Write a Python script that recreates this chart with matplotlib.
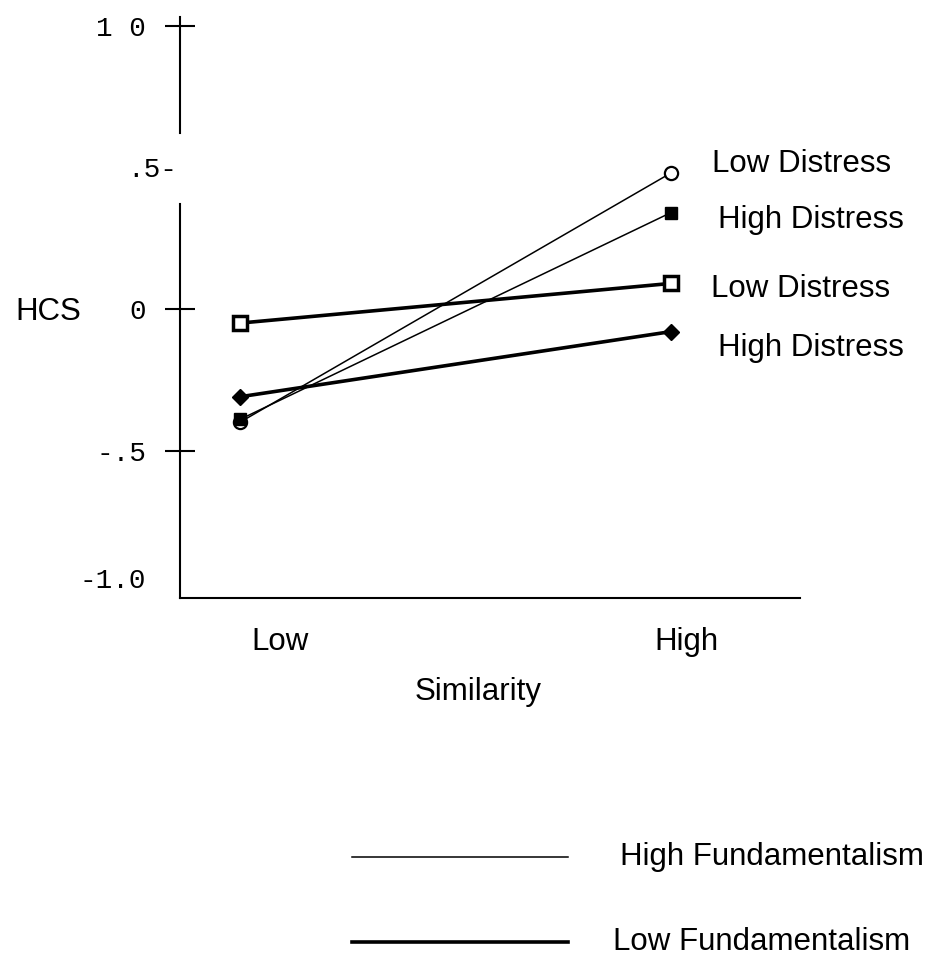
import matplotlib
matplotlib.use("Agg")
import matplotlib.pyplot as plt
import matplotlib.transforms as mtrans
from matplotlib.lines import Line2D

# values (HCS at low / high similarity)
similarity = ["Low", "High"]
x_pos = [0, 1]
hf_low_distress = [-0.40, 0.48]
hf_high_distress = [-0.39, 0.34]
lf_low_distress = [-0.05, 0.09]
lf_high_distress = [-0.31, -0.08]

y_ticks = [-1.0, -0.5, 0.0, 0.5, 1.0]
y_tick_labels = ["-1.0", "-.5", "0", ".5-", "1 0"]
end_labels = ["Low Distress", "High Distress", "Low Distress", "High Distress"]
legend_labels = ["High Fundamentalism", "Low Fundamentalism"]

SANS = "Liberation Sans"
MONO = "Liberation Mono"
FS = 22.5

fig = plt.figure(figsize=(9.46, 9.6), dpi=100)
ax = fig.add_axes([180 / 946, 1 - 598 / 960, 620 / 946, 581 / 960])
xmin, xmax = -0.139, 1.299
ax.set_xlim(xmin, xmax)
ax.set_ylim(-1.02, 1.03)


def px(dx, dy):
    # shift in screen pixels
    return mtrans.ScaledTranslation(dx / 100, dy / 100, fig.dpi_scale_trans)


thin = dict(color="black", lw=1.1)
thick = dict(color="black", lw=2.6)

# low fundamentalism (thick) first, high fundamentalism (thin) on top
ax.plot(x_pos, lf_low_distress, marker="s", ms=9.5, mfc="white", mec="black", mew=2.5, **thick)
ax.plot(x_pos, lf_high_distress, marker="D", ms=8.5, mfc="black", mec="black", **thick)
ax.plot(x_pos, hf_low_distress, marker="o", ms=9.5, mfc="white", mec="black", mew=1.6, **thin)
ax.plot(x_pos, hf_high_distress, marker="s", ms=8.5, mfc="black", mec="black", **thin)

# labels at the right end of each line
ends = [hf_low_distress[1], hf_high_distress[1], lf_low_distress[1], lf_high_distress[1]]
offsets = [(41, 1), (47, -15), (40, -14), (47, -24)]
for lbl, yv, (dx, dy) in zip(end_labels, ends, offsets):
    ax.annotate(lbl, xy=(1, yv), xytext=(dx, dy), textcoords="offset pixels",
                ha="left", va="baseline", fontsize=FS, family=SANS)

# axes frame
for s in ["top", "right"]:
    ax.spines[s].set_visible(False)
ax.spines["left"].set_linewidth(1.5)
ax.spines["bottom"].set_linewidth(1.5)
ax.spines["left"].set_bounds(-1.02, 0.37)
ax.axvline(xmin, ymin=(0.62 + 1.02) / 2.05, ymax=1.0, color="black", lw=1.5, clip_on=False)

ax.set_yticks(y_ticks, y_tick_labels, family=MONO, fontsize=20)
ax.tick_params(axis="y", direction="inout", length=22, width=1.5, pad=13.5)
yt = ax.yaxis.get_major_ticks()
yt[0].tick1line.set_visible(False)
yt[3].tick1line.set_visible(False)
ylabs = ax.get_yticklabels()
ylabs[0].set_transform(ylabs[0].get_transform() + px(0, 14))
ylabs[3].set_transform(ylabs[3].get_transform() + px(31, 0))

ax.set_xticks(x_pos, similarity, family=SANS, fontsize=FS)
ax.tick_params(axis="x", length=0, pad=21)
xlabs = ax.get_xticklabels()
xlabs[0].set_transform(xlabs[0].get_transform() + px(40, 0))
xlabs[1].set_transform(xlabs[1].get_transform() + px(15, 0))

fig.text(478 / 946, 1 - 692 / 960, "Similarity", ha="center", va="center",
         fontsize=FS, family=SANS)
fig.text(48 / 946, 1 - 312 / 960, "HCS", ha="center", va="center",
         fontsize=FS, family=SANS)

# legend drawn by hand below the plot
leg_y = [857, 942]
leg_lw = [1.1, 2.6]
leg_tx = [620, 613]
for lbl, y, lw, tx in zip(legend_labels, leg_y, leg_lw, leg_tx):
    fig.add_artist(Line2D([352 / 946, 568 / 946], [1 - y / 960] * 2,
                          transform=fig.transFigure, color="black", lw=lw))
    fig.text(tx / 946, 1 - y / 960, lbl, ha="left", va="center",
             fontsize=FS, family=SANS)

fig.savefig("out.png", dpi=100, facecolor="white")
